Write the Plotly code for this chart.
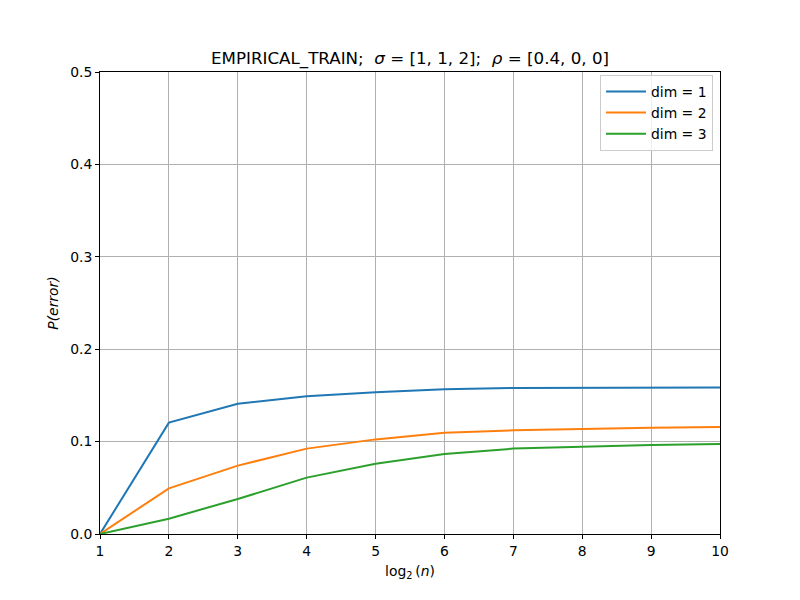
import plotly.graph_objects as go

x_vals = [1, 2, 3, 4, 5, 6, 7, 8, 9, 10]
dim1 = [0.0, 0.1205, 0.141, 0.149, 0.1533, 0.1566, 0.158, 0.1584, 0.1585, 0.1585]
dim2 = [0.0, 0.0494, 0.0740, 0.0924, 0.1024, 0.1097, 0.1122, 0.1140, 0.1150, 0.1158]
dim3 = [0.0, 0.0166, 0.0379, 0.0610, 0.0761, 0.0866, 0.0924, 0.0945, 0.0963, 0.0974]
series_names = ["dim = 1", "dim = 2", "dim = 3"]
colors = ["#1f77b4", "#ff7f0e", "#2ca02c"]

FONT = "DejaVu Sans"
fig = go.Figure()
for name, ys, c in zip(series_names, [dim1, dim2, dim3], colors):
    fig.add_trace(go.Scatter(x=x_vals, y=ys, mode="lines", name=name,
                             line=dict(color=c, width=2)))

nb = "\u00a0"
title = f"EMPIRICAL_TRAIN;{nb}{nb}<i>σ</i> = [1, 1, 2];{nb}{nb}<i>ρ</i> = [0.4, 0, 0]"

axis_common = dict(showline=True, linecolor="black", linewidth=1, mirror=True,
                   ticks="outside", ticklen=4, tickcolor="black",
                   showgrid=True, gridcolor="#b0b0b0", gridwidth=1,
                   zeroline=False, tickfont=dict(family=FONT, size=13.9, color="black"))

fig.update_layout(
    width=800, height=600,
    margin=dict(l=100, r=80, t=72, b=66),
    paper_bgcolor="white", plot_bgcolor="white",
    font=dict(family=FONT, size=13.9, color="black"),
    title=dict(text=title, x=410/800, xanchor="center", y=1 - 58/600, yanchor="middle",
               font=dict(family=FONT, size=16.7, color="black")),
    xaxis=dict(range=[1, 10], tickvals=x_vals, ticktext=[str(v) for v in x_vals],
               title=dict(text="log<sub>2</sub>\u2009(<i>n</i>)", standoff=8,
                          font=dict(family=FONT, size=13.9)),
               **axis_common),
    yaxis=dict(range=[0, 0.5], tickvals=[0, 0.1, 0.2, 0.3, 0.4, 0.5], tickformat=".1f",
               title=dict(text="<i>P(error)</i>", standoff=8,
                          font=dict(family=FONT, size=13.9)),
               **axis_common),
    legend=dict(x=0.9887, y=0.9935, xanchor="right", yanchor="top",
                bgcolor="rgba(255,255,255,0.8)", bordercolor="#cccccc", borderwidth=1,
                font=dict(family=FONT, size=13.9), tracegroupgap=0, itemwidth=40),
    showlegend=True,
)

fig.write_html("out.html")
